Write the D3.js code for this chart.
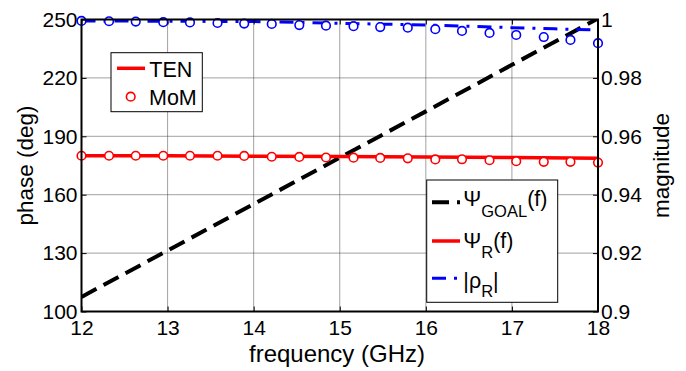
<!DOCTYPE html>
<html>
<head>
<meta charset="utf-8">
<script src="https://cdn.jsdelivr.net/npm/d3@7"></script>
<style>
  html, body { margin: 0; padding: 0; background: #fff; }
  svg { display: block; font-family: "Liberation Sans", Arial, Helvetica, sans-serif; }
</style>
</head>
<body>
<svg id="chart" width="686" height="371"></svg>
<script>
// Reflection phase and magnitude versus frequency
const freqTicks = [12, 13, 14, 15, 16, 17, 18];
const phaseTicks = [100, 130, 160, 190, 220, 250];
const magTicks = [0.9, 0.92, 0.94, 0.96, 0.98, 1];

// Target phase (black dashed)
const freqGoal = [12, 13, 14, 15, 16, 17, 18];
const phaseGoal = [107.5, 131.3, 155.2, 179.0, 202.8, 226.7, 250.5];

// TEN phase (red solid)
const freqTEN = [12, 13, 14, 15, 16, 17, 18];
const phaseTEN = [180.0, 180.0, 179.8, 179.6, 179.4, 179.1, 178.7];

// TEN magnitude (blue dash-dot)
const freqMagTEN = [12, 13, 14, 14.5, 15, 15.5, 16, 16.5, 17, 17.5, 18];
const magTEN = [0.9995, 0.9994, 0.9993, 0.9990, 0.9987, 0.9984, 0.9981, 0.9977, 0.9972, 0.9968, 0.9964];

// MoM samples (circles)
const freqMoM = [12.00, 12.32, 12.63, 12.95, 13.26, 13.58, 13.89, 14.21, 14.53, 14.84,
                 15.16, 15.47, 15.79, 16.11, 16.42, 16.74, 17.05, 17.37, 17.68, 18.00];
const phaseMoM = [180.0, 180.0, 180.0, 180.0, 180.0, 180.0, 179.9, 179.5, 179.4, 179.1,
                  179.0, 178.9, 178.7, 178.1, 178.2, 177.7, 177.2, 176.9, 176.9, 176.5];
const magMoM = [0.9995, 0.9994, 0.9993, 0.9991, 0.9990, 0.9988, 0.9986, 0.9985, 0.9981, 0.9979,
                0.9977, 0.9974, 0.9972, 0.9967, 0.9961, 0.9954, 0.9947, 0.9940, 0.9930, 0.9919];

const svg = d3.select("#chart");
const L = 81.5, R = 598, T = 19.5, B = 311.5;

const x = d3.scaleLinear().domain([12, 18]).range([L, R]);
const yP = d3.scaleLinear().domain([100, 250]).range([B, T]);
const yM = d3.scaleLinear().domain([0.9, 1.0]).range([B, T]);

svg.append("defs").append("clipPath").attr("id", "plotClip")
  .append("rect").attr("x", L).attr("y", T).attr("width", R - L).attr("height", B - T);

// grid
const grid = svg.append("g").attr("stroke", "#444").attr("stroke-width", 1).attr("stroke-dasharray", "1,1");
grid.selectAll("line.v").data(freqTicks.slice(1, -1)).join("line")
  .attr("x1", d => x(d)).attr("x2", d => x(d)).attr("y1", T).attr("y2", B);
grid.selectAll("line.h").data(phaseTicks.slice(1, -1)).join("line")
  .attr("x1", L).attr("x2", R).attr("y1", d => yP(d)).attr("y2", d => yP(d));

const plot = svg.append("g").attr("clip-path", "url(#plotClip)");

const lineP = fx => d3.line().x((d, i) => x(fx[i])).y(d => yP(d));
const lineM = d3.line().x((d, i) => x(freqMagTEN[i])).y(d => yM(d));

plot.append("path").datum(phaseGoal)
  .attr("d", lineP(freqGoal))
  .attr("fill", "none").attr("stroke", "#000").attr("stroke-width", 4)
  .attr("stroke-dasharray", "17,8");

plot.append("path").datum(phaseTEN)
  .attr("d", lineP(freqTEN))
  .attr("fill", "none").attr("stroke", "#ff0000").attr("stroke-width", 3.5);

plot.append("path").datum(magTEN)
  .attr("d", lineM)
  .attr("fill", "none").attr("stroke", "#0000ff").attr("stroke-width", 3)
  .attr("stroke-dasharray", "14,8,3,8");

// MoM markers
svg.append("g").selectAll("circle").data(phaseMoM).join("circle")
  .attr("cx", (d, i) => x(freqMoM[i])).attr("cy", d => yP(d)).attr("r", 4.3)
  .attr("fill", "#fff").attr("stroke", "#ff0000").attr("stroke-width", 1.6);

svg.append("g").selectAll("circle").data(magMoM).join("circle")
  .attr("cx", (d, i) => x(freqMoM[i])).attr("cy", d => yM(d)).attr("r", 4.3)
  .attr("fill", "#fff").attr("stroke", "#0000ff").attr("stroke-width", 1.6);

// axes
function styleAxis(g) {
  g.select(".domain").remove();
  g.selectAll(".tick line").attr("stroke", "#000").attr("stroke-width", 1);
  g.selectAll(".tick text").attr("fill", "#000").attr("font-size", 21)
    .attr("font-family", "Liberation Sans, Arial, sans-serif");
}

svg.append("g").attr("transform", `translate(${L},0)`)
  .call(d3.axisLeft(yP).tickValues(phaseTicks).tickFormat(d3.format("d")).tickSize(-5).tickPadding(4))
  .call(styleAxis);

svg.append("g").attr("transform", `translate(${R},0)`)
  .call(d3.axisRight(yM).tickValues(magTicks).tickFormat(d => d === 1 ? "1" : d3.format(".2~f")(d)).tickSize(-5).tickPadding(3))
  .call(styleAxis);

svg.append("g").attr("transform", `translate(0,${B})`)
  .call(d3.axisBottom(x).tickValues(freqTicks).tickFormat(d3.format("d")).tickSize(-5).tickPadding(9))
  .call(styleAxis);

svg.append("g").attr("transform", `translate(0,${T})`)
  .call(d3.axisTop(x).tickValues(freqTicks).tickFormat("").tickSize(-5))
  .call(styleAxis);

// frame
svg.append("rect").attr("x", L).attr("y", T).attr("width", R - L).attr("height", B - T)
  .attr("fill", "none").attr("stroke", "#000").attr("stroke-width", 2);

// axis titles
svg.append("text").attr("x", 337).attr("y", 362).attr("text-anchor", "middle")
  .attr("font-size", 24).text("frequency (GHz)");

svg.append("text").attr("transform", `translate(25,${(T + B) / 2}) rotate(-90)`)
  .attr("text-anchor", "middle").attr("dy", "0.35em").attr("font-size", 22.5).text("phase (deg)");

svg.append("text").attr("transform", `translate(661,${(T + B) / 2}) rotate(-90)`)
  .attr("text-anchor", "middle").attr("dy", "0.35em").attr("font-size", 22.5).text("magnitude");

// method legend
const leg1 = svg.append("g");
leg1.append("rect").attr("x", 111).attr("y", 52.7).attr("width", 91.3).attr("height", 59)
  .attr("fill", "#fff").attr("stroke", "#000").attr("stroke-width", 1);
leg1.append("line").attr("x1", 117).attr("x2", 145).attr("y1", 68.3).attr("y2", 68.3)
  .attr("stroke", "#ff0000").attr("stroke-width", 3.5);
leg1.append("text").attr("x", 149.3).attr("y", 77.3).attr("font-size", 21.5).text("TEN");
leg1.append("circle").attr("cx", 130.7).attr("cy", 96.7).attr("r", 4.3)
  .attr("fill", "#fff").attr("stroke", "#ff0000").attr("stroke-width", 1.6);
leg1.append("text").attr("x", 149).attr("y", 105).attr("font-size", 21.5).text("MoM");

// quantity legend
const leg2 = svg.append("g");
leg2.append("rect").attr("x", 426.7).attr("y", 180).attr("width", 131).attr("height", 122.3)
  .attr("fill", "#fff").attr("stroke", "#000").attr("stroke-width", 1);

const entries = [
  { y: 202.3, base: 205.5, color: "#000", width: 4, dash: "17,8", main: "Ψ", sub: "GOAL", tail: "(f)", subDy: 11.5 },
  { y: 241, base: 248.3, color: "#ff0000", width: 3.5, dash: null, main: "Ψ", sub: "R", tail: "(f)", subDy: 10 },
  { y: 278.3, base: 288, color: "#0000ff", width: 3, dash: "14,8,3,8", main: "|ρ", sub: "R", tail: "|", subDy: 9 }
];
entries.forEach(e => {
  leg2.append("line").attr("x1", 432).attr("x2", 460).attr("y1", e.y).attr("y2", e.y)
    .attr("stroke", e.color).attr("stroke-width", e.width)
    .attr("stroke-dasharray", e.dash);
  const t = leg2.append("text").attr("x", 463.3).attr("y", e.base).attr("font-size", 21.5);
  t.append("tspan").text(e.main);
  t.append("tspan").attr("font-size", 16.5).attr("dy", e.subDy).text(e.sub);
  t.append("tspan").attr("dy", -e.subDy).text(e.tail);
});
</script>
</body>
</html>
